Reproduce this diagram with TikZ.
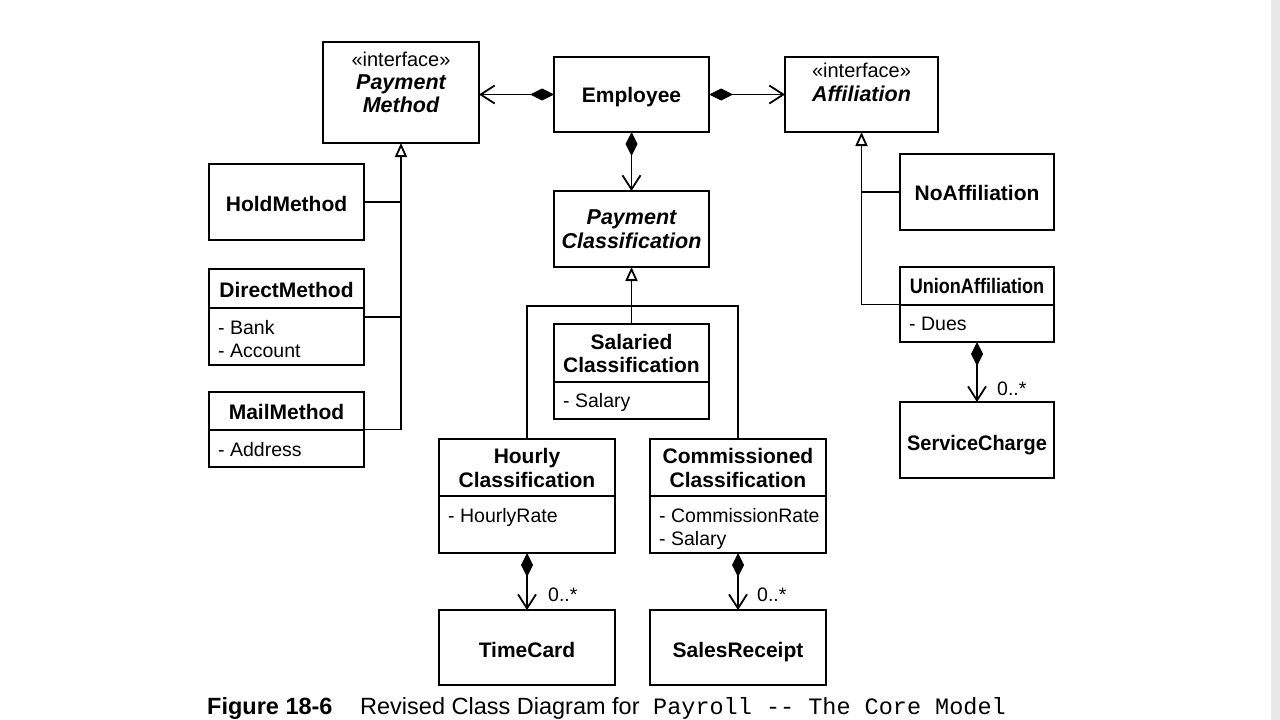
\documentclass[tikz,border=0pt]{standalone}
\usepackage{fontspec}
\setmainfont{Liberation Sans}
\setmonofont{Liberation Mono}
\usetikzlibrary{arrows.meta}
\begin{document}
\begin{tikzpicture}[x=1pt,y=-1pt,
  cls/.style={draw, line width=2pt, inner sep=0pt, outer sep=0pt, anchor=north west},
  divl/.style={line width=1.8pt},
  bt/.style={anchor=base, inner sep=0pt, font=\fontsize{21}{23}\selectfont\bfseries},
  bit/.style={anchor=base, inner sep=0pt, font=\fontsize{21.5}{23}\selectfont\bfseries\itshape},
  rt/.style={anchor=base, inner sep=0pt, font=\fontsize{20}{22}\selectfont},
  att/.style={anchor=base west, inner sep=0pt, font=\fontsize{19.5}{22}\selectfont},
  con/.style={line width=1.8pt},
  comp/.style={con, {Diamond[length=24pt,width=12pt]}-{Straight Barb[length=14pt,width=18pt]}},
  gen/.style={con, -{Triangle[open, length=14pt, width=12pt, fill=white]}},
  capf/.style={anchor=base west, inner sep=0pt}
]
\useasboundingbox (0,0) rectangle (1280,720);
\fill[white] (0,0) rectangle (1271,720);
\fill[gray!18] (1271,0) rectangle (1280,720);

% ---------- boxes ----------
\node[cls, minimum width=156pt, minimum height=101pt] (pm) at (323,42) {};
\node[cls, minimum width=155pt, minimum height=75pt] (emp) at (554,57) {};
\node[cls, minimum width=153pt, minimum height=75pt] (aff) at (785,57) {};
\node[cls, minimum width=155pt, minimum height=76pt] (pc) at (554,191) {};
\node[cls, minimum width=155pt, minimum height=95pt] (sal) at (554,324) {};
\node[cls, minimum width=176pt, minimum height=114pt] (hourly) at (439,439) {};
\node[cls, minimum width=176pt, minimum height=114pt] (comm) at (650,439) {};
\node[cls, minimum width=176pt, minimum height=75pt] (timecard) at (439,610) {};
\node[cls, minimum width=176pt, minimum height=75pt] (sales) at (650,610) {};
\node[cls, minimum width=155pt, minimum height=76pt] (hold) at (209,164) {};
\node[cls, minimum width=155pt, minimum height=96pt] (direct) at (209,269) {};
\node[cls, minimum width=155pt, minimum height=75pt] (mail) at (209,392) {};
\node[cls, minimum width=154pt, minimum height=76pt] (noaff) at (900,154) {};
\node[cls, minimum width=154pt, minimum height=75pt] (union) at (900,267) {};
\node[cls, minimum width=154pt, minimum height=76pt] (svc) at (900,402) {};

% dividers
\draw[divl] (554,382) -- (709,382);
\draw[divl] (439,496) -- (615,496);
\draw[divl] (650,496) -- (826,496);
\draw[divl] (209,308) -- (364,308);
\draw[divl] (209,430) -- (364,430);
\draw[divl] (900,305) -- (1054,305);

% ---------- texts ----------
\node[rt] (pmT1) at (401,66) {«interface»};
\node[bit] (pmT2) at (401,89) {Payment};
\node[bit] (pmT3) at (401,112) {Method};
\node[bt] (empT) at (631.5,102) {Employee};
\node[rt] (affT1) at (861.5,77) {«interface»};
\node[bit] (affT2) at (861.5,101) {Affiliation};
\node[bit] (pcT1) at (631.5,224) {Payment};
\node[bit] (pcT2) at (631.5,248) {Classification};
\node[bt] (salT1) at (631.5,349) {Salaried};
\node[bt] (salT2) at (631.5,372) {Classification};
\node[att] (salA) at (563,407) {- Salary};
\node[bt] (hrT1) at (527,463) {Hourly};
\node[bt] (hrT2) at (527,487) {Classification};
\node[att] (hrA) at (448,522) {- HourlyRate};
\node[bt] (cmT1) at (738,463) {Commissioned};
\node[bt] (cmT2) at (738,487) {Classification};
\node[att] (cmA1) at (659,522) {- CommissionRate};
\node[att] (cmA2) at (659,545) {- Salary};
\node[bt] (tcT) at (527,657) {TimeCard};
\node[bt] (srT) at (738,657) {SalesReceipt};
\node[bt] (hoT) at (286.5,211) {HoldMethod};
\node[bt] (drT) at (286.5,297) {DirectMethod};
\node[att] (drA1) at (218,334) {- Bank};
\node[att] (drA2) at (218,357) {- Account};
\node[bt] (mlT) at (286.5,419) {MailMethod};
\node[att] (mlA) at (218,456) {- Address};
\node[bt] (naT) at (977,200) {NoAffiliation};
\node[bt] (unT) at (977,293) {\scalebox{0.86}[1]{UnionAffiliation}};
\node[att] (unA) at (909,330) {- Dues};
\node[bt] (scT) at (977,450) {\scalebox{0.95}[1]{ServiceCharge}};

% ---------- connectors ----------
\draw[comp] (emp.west) -- (emp.west -| pm.east);
\draw[comp] (emp.east) -- (emp.east -| aff.west);
\draw[comp] (emp.south) -- (pc.north);
\draw[comp] (hourly.south) -- (timecard.north);
\draw[comp] (comm.south) -- (sales.north);
\draw[comp] (union.south) -- (svc.north);

\node[att] (m1) at (548,601) {0..*};
\node[att] (m2) at (757,601) {0..*};
\node[att] (m3) at (997,395) {0..*};

% generalization: payment classification
\coordinate (gj) at (631.5,306);
\draw[gen] (sal.north) -- (pc.south);
\draw[con] (hourly.north) |- (gj) -| (comm.north);

% generalization: payment method
\draw[gen] (mail.east) -| (pm.south);
\draw[con] (hold.east) -- (hold.east -| pm.south);
\draw[con] (direct.east) -- (direct.east -| pm.south);

% generalization: affiliation
\draw[gen] (union.west) -| (aff.south);
\draw[con] (noaff.west) -- (noaff.west -| aff.south);

% ---------- caption ----------
\node[capf, font=\fontsize{23.5}{26}\selectfont\bfseries] (capA) at (207,714) {Figure 18-6};
\node[capf, font=\fontsize{23.5}{26}\selectfont] (capB) at (360,714) {Revised Class Diagram for};
\node[capf, font=\fontsize{23.5}{26}\selectfont\ttfamily] (capC) at (653,714) {Payroll -{}- The Core Model};
\end{tikzpicture}
\end{document}
